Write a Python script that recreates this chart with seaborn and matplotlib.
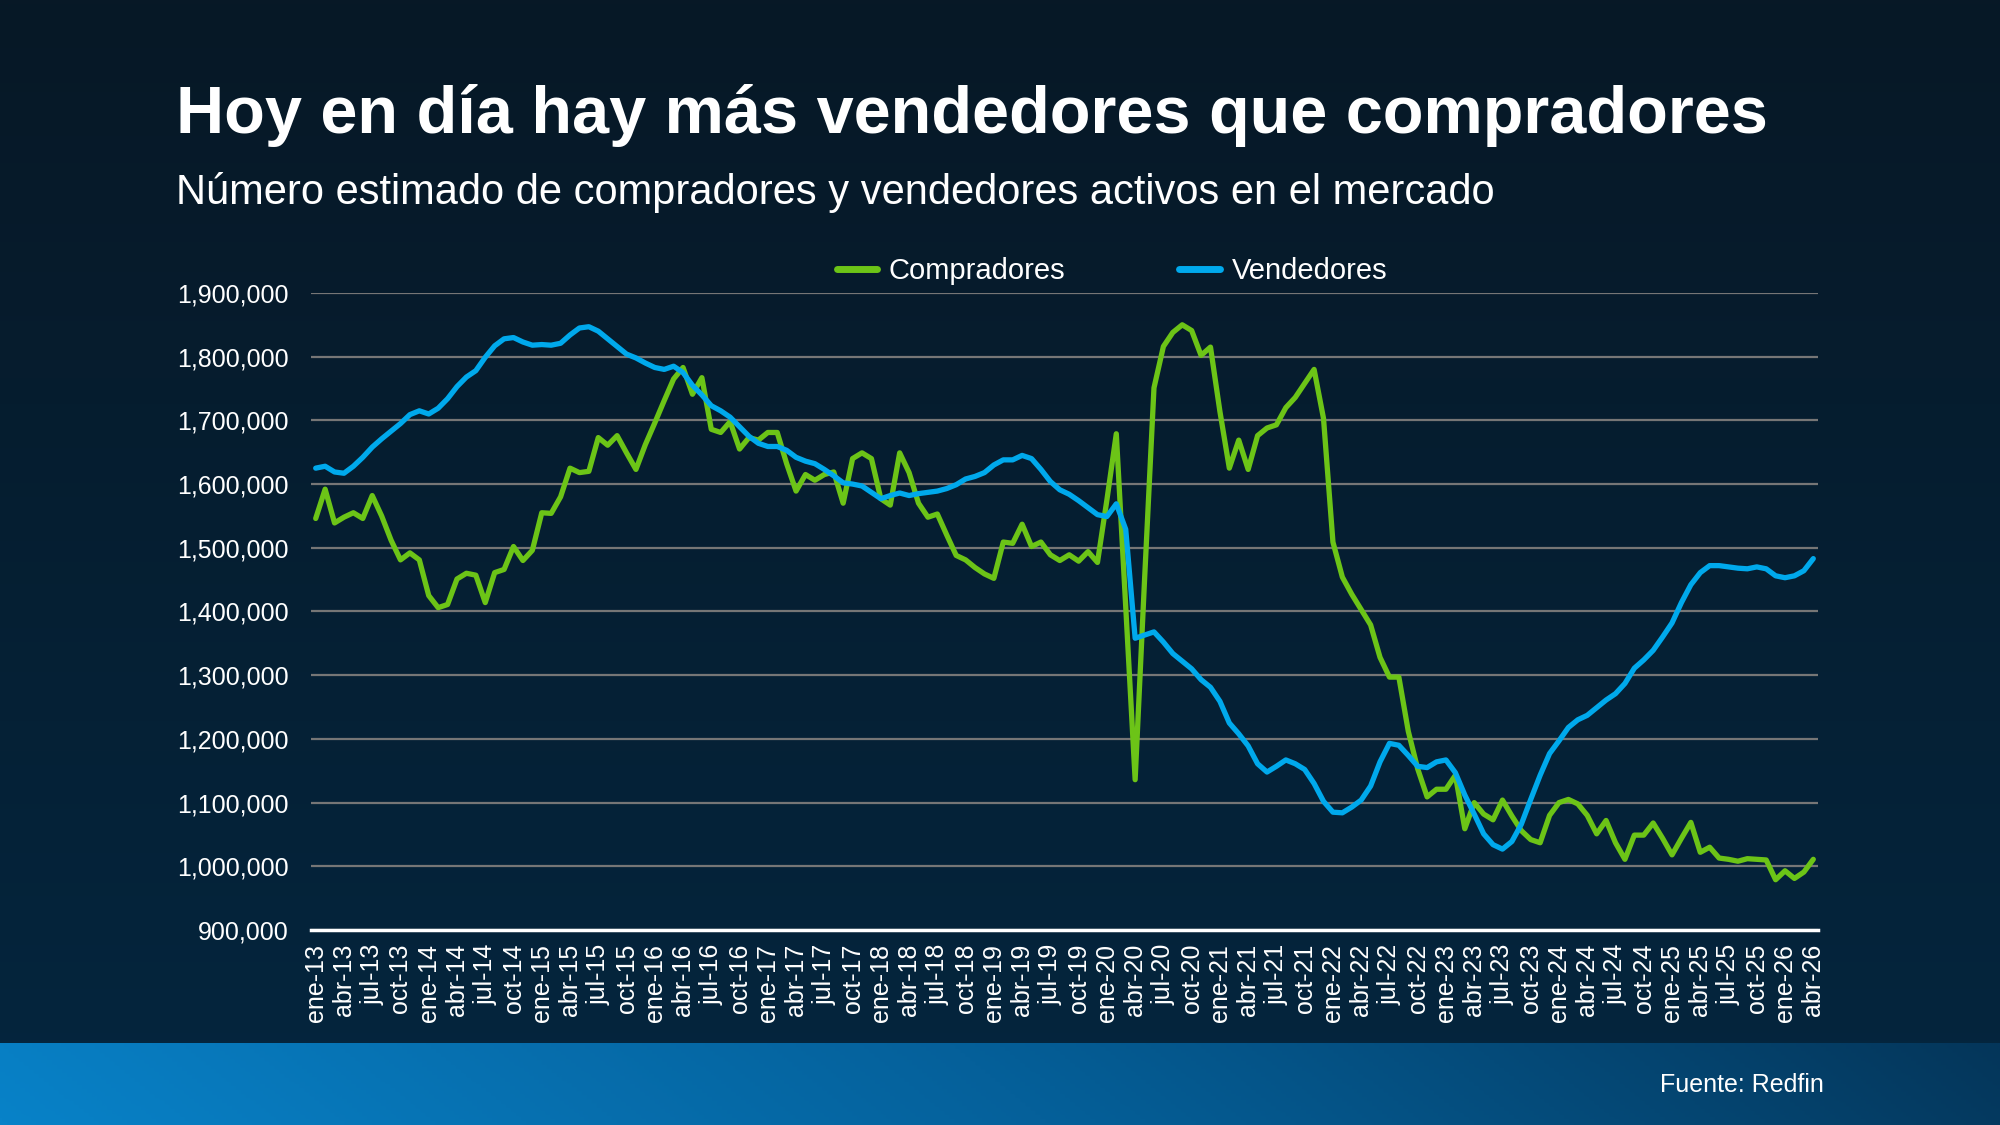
import numpy as np
import pandas as pd
import seaborn as sns
import matplotlib.pyplot as plt
from matplotlib.colors import LinearSegmentedColormap

# Monthly estimates, ene-13 .. abr-26 (thousands)
meses = ['ene', 'feb', 'mar', 'abr', 'may', 'jun', 'jul', 'ago', 'sep', 'oct', 'nov', 'dic']
fechas = [f'{m}-{y}' for y in range(13, 27) for m in meses][:160]

compradores = [
    1546, 1592, 1539, 1548, 1555, 1546, 1582, 1550, 1512, 1481, 1492, 1481,
    1425, 1406, 1411, 1451, 1460, 1457, 1414, 1461, 1466, 1502, 1480, 1496,
    1555, 1554, 1580, 1625, 1618, 1620, 1673, 1661, 1676, 1649, 1623, 1662,
    1696, 1731, 1765, 1783, 1741, 1767, 1686, 1681, 1698, 1655, 1673, 1669,
    1681, 1681, 1632, 1589, 1615, 1606, 1615, 1619, 1570, 1640, 1649, 1640,
    1577, 1567, 1649, 1618, 1570, 1548, 1553, 1520, 1488, 1481, 1469, 1459,
    1452, 1509, 1507, 1537, 1502, 1509, 1489, 1480, 1489, 1479, 1494, 1477,
    1575, 1679, 1408, 1136, 1450, 1751, 1816, 1838, 1850, 1841, 1802, 1815,
    1714, 1625, 1669, 1623, 1676, 1688, 1693, 1720, 1736, 1758, 1780, 1703,
    1509, 1454, 1427, 1403, 1379, 1328, 1297, 1297, 1212, 1153, 1109, 1121,
    1121, 1143, 1059, 1100, 1082, 1073, 1104, 1079, 1056, 1042, 1037, 1080,
    1100, 1105, 1098, 1080, 1051, 1072, 1037, 1011, 1049, 1049, 1068, 1044,
    1018, 1044, 1069, 1022, 1030, 1013, 1011, 1008, 1012, 1011, 1010, 979,
    993, 981, 991, 1011,
]

vendedores = [
    1625, 1628, 1619, 1617, 1628, 1642, 1658, 1671, 1683, 1695, 1709, 1715,
    1710, 1719, 1734, 1753, 1768, 1778, 1799, 1817, 1828, 1830, 1823, 1818,
    1819, 1818, 1821, 1834, 1845, 1847, 1840, 1828, 1816, 1804, 1798, 1790,
    1783, 1780, 1785, 1775, 1755, 1740, 1723, 1715, 1705, 1690, 1675, 1664,
    1659, 1659, 1653, 1642, 1636, 1632, 1623, 1613, 1602, 1600, 1597, 1587,
    1577, 1582, 1586, 1582, 1585, 1587, 1589, 1593, 1599, 1608, 1612, 1618,
    1630, 1638, 1638, 1645, 1640, 1623, 1604, 1591, 1584, 1574, 1563, 1552,
    1549, 1569, 1529, 1358, 1363, 1368, 1352, 1334, 1322, 1310, 1293, 1281,
    1259, 1225, 1208, 1189, 1161, 1148, 1157, 1167, 1161, 1152, 1130, 1102,
    1085, 1084, 1093, 1104, 1126, 1164, 1193, 1190, 1174, 1157, 1155, 1164,
    1167, 1147, 1112, 1082, 1051, 1034, 1027, 1039, 1066, 1105, 1143, 1177,
    1197, 1218, 1230, 1237, 1249, 1261, 1271, 1287, 1311, 1324, 1339, 1360,
    1382, 1414, 1442, 1461, 1472, 1472, 1470, 1468, 1467, 1470, 1467, 1456,
    1453, 1456, 1464, 1483,
]

series = ['Compradores', 'Vendedores']
colores = ['#6CC417', '#00A9EC']

n = len(fechas)
df = pd.DataFrame({
    'pos': list(range(n)) * 2,
    'valor': np.array(compradores + vendedores) * 1000,
    'serie': [series[0]] * n + [series[1]] * n,
})

sns.set_style('white')
plt.rcParams['font.family'] = ['Liberation Sans', 'DejaVu Sans']

fig = plt.figure(figsize=(20, 11.25), dpi=100)

# background gradients
bg = fig.add_axes([0, 0, 1, 1], zorder=-10)
grad = LinearSegmentedColormap.from_list('bg', ['#071826', '#04263f'])
bg.imshow(np.linspace(0, 1, 256).reshape(-1, 1), aspect='auto', cmap=grad,
          extent=[0, 1, 0, 1])
bg.axis('off')

banner = fig.add_axes([0, 0, 1, 82 / 1125], zorder=-9)
gband = LinearSegmentedColormap.from_list('band', ['#0882c8', '#05609a', '#04365a'])
xx, yy = np.meshgrid(np.linspace(0, 1, 400), np.linspace(0, 1, 40))
banner.imshow(xx - 0.05 * yy, aspect='auto', cmap=gband, extent=[0, 1, 0, 1])
banner.axis('off')

ax = fig.add_axes([0.1555, 0.1733, 0.7535, 0.5663])
ax.patch.set_alpha(0)

sns.lineplot(data=df, x='pos', y='valor', hue='serie', palette=colores,
             linewidth=3.8, ax=ax, legend=False)

ax.set_xlim(-0.5, n - 0.5)
ax.set_ylim(900000, 1900000)
ax.set_yticks(np.arange(900000, 1900001, 100000))
ax.yaxis.set_major_formatter(plt.FuncFormatter(lambda v, p: f'{int(v):,}'))
ax.set_xticks(range(0, n, 3))
ax.set_xticklabels(fechas[::3], rotation=90)
ax.set_xlabel('')
ax.set_ylabel('')

ax.grid(axis='y', color='#767676', linewidth=1.6)
ax.grid(axis='x', visible=False)
ax.set_axisbelow(True)
for s in ['top', 'right', 'left']:
    ax.spines[s].set_visible(False)
ax.spines['bottom'].set_color('white')
ax.spines['bottom'].set_linewidth(2.5)
ax.tick_params(axis='y', length=0, pad=16, labelsize=18, labelcolor='white')
ax.tick_params(axis='x', length=0, pad=10, labelsize=18, labelcolor='white')

handles = [plt.Line2D([], [], color=c, linewidth=5, solid_capstyle='round') for c in colores]
fig.legend(handles, series, loc='center', bbox_to_anchor=(0.556, 0.759),
           ncol=2, frameon=False, fontsize=21, labelcolor='white',
           handlelength=1.4, handletextpad=0.4, columnspacing=3.9)

fig.text(0.088, 0.8818, 'Hoy en día hay más vendedores que compradores',
         color='white', fontsize=48, fontweight='bold', va='baseline')
fig.text(0.088, 0.8190, 'Número estimado de compradores y vendedores activos en el mercado',
         color='white', fontsize=30, va='baseline')
fig.text(0.912, 0.0356, 'Fuente: Redfin', color='white', fontsize=18,
         ha='right', va='center')

fig.savefig('out.png', dpi=100)
